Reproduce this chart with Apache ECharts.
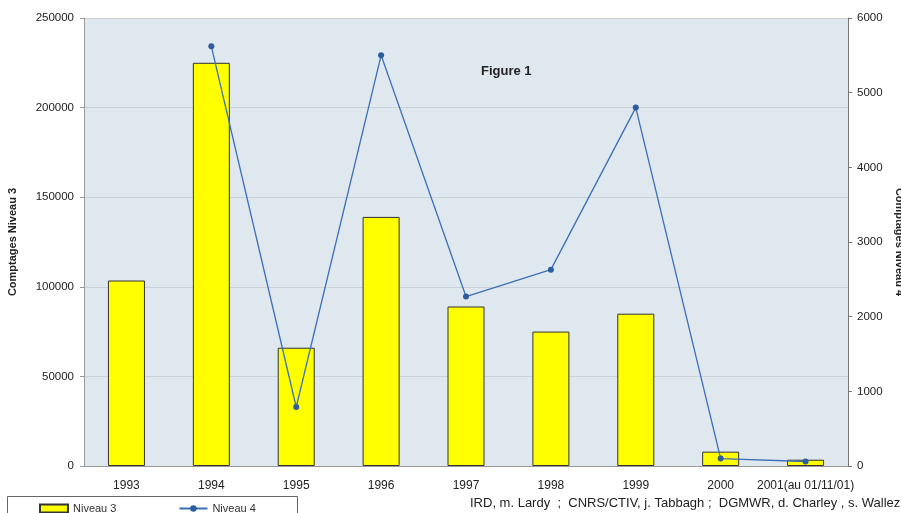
<!DOCTYPE html>
<html>
<head>
<meta charset="utf-8">
<script src="https://cdn.jsdelivr.net/npm/echarts@6/dist/echarts.min.js"></script>
<style>
  html, body { margin: 0; padding: 0; background: #fff; }
  #chart { width: 901px; height: 513px; }
</style>
</head>
<body>
<div id="chart"></div>
<script>
// values
let years = ["1993", "1994", "1995", "1996", "1997", "1998", "1999", "2000", "2001(au 01/11/01)"];
let niveau3 = [103500, 225000, 66000, 139000, 89000, 75000, 85000, 8000, 3500];
let niveau4 = [null, 5620, 790, 5500, 2270, 2630, 4800, 100, 60];
let leftTicks = [0, 50000, 100000, 150000, 200000, 250000];
let rightTicks = [0, 1000, 2000, 3000, 4000, 5000, 6000];

let font = "Liberation Sans, Arial, sans-serif";

var myChart = echarts.init(document.getElementById("chart"), null, { renderer: "canvas" });

let option = {
    backgroundColor: "#ffffff",
    animation: false,
    textStyle: { fontFamily: font },
    title: {
        text: "Figure 1",
        left: 476,
        top: 60,
        textStyle: { fontSize: 13, fontWeight: "bold", color: "#222", fontFamily: font }
    },
    legend: {
        left: 34,
        top: 498,
        itemGap: 62,
        itemWidth: 28,
        itemHeight: 8,
        textStyle: { fontSize: 11, color: "#333", fontFamily: font },
        data: [
            { name: "Niveau 3", icon: "rect" },
            { name: "Niveau 4" }
        ]
    },
    graphic: [
        {
            type: "rect",
            left: 5, top: 494,
            shape: { width: 290, height: 30 },
            style: { fill: null, stroke: "#666", lineWidth: 1 }
        },
        {
            type: "text",
            left: 470, top: 497,
            style: {
                text: "IRD, m. Lardy  ;  CNRS/CTIV, j. Tabbagh ;  DGMWR, d. Charley , s. Wallez",
                fontSize: 13, fill: "#222", fontFamily: font
            }
        }
    ],
    grid: {
        left: 84,
        right: 53,
        top: 18,
        bottom: 47,
        outerBoundsMode: "none",
        containLabel: false,
        show: true,
        backgroundColor: "#dfe7ef",
        borderWidth: 0
    },
    xAxis: {
        type: "category",
        data: years,
        axisLine: { show: true, lineStyle: { color: "#999", width: 1 } },
        axisTick: { show: false },
        axisLabel: { fontSize: 12, color: "#222", margin: 14, interval: 0 }
    },
    yAxis: [
        {
            type: "value",
            min: 0, max: 250000, interval: 50000,
            name: "Comptages Niveau 3",
            nameLocation: "middle",
            nameGap: 66,
            nameTextStyle: { fontSize: 11, fontWeight: "bold", color: "#222" },
            axisLine: { show: true, lineStyle: { color: "#999" } },
            axisTick: { show: true, length: 4, inside: false, lineStyle: { color: "#999" } },
            axisLabel: { fontSize: 11.5, color: "#222", margin: 10, formatter: v => String(v) },
            splitLine: { show: true, lineStyle: { color: "#c9d0d6", width: 1 } }
        },
        {
            type: "value",
            min: 0, max: 6000, interval: 1000,
            name: "Comptages Niveau 4",
            nameLocation: "middle",
            nameGap: 45,
            nameRotate: -90,
            nameTextStyle: { fontSize: 11, fontWeight: "bold", color: "#222" },
            axisLine: { show: true, lineStyle: { color: "#777" } },
            axisTick: { show: true, length: 4, lineStyle: { color: "#777" } },
            axisLabel: { fontSize: 11.5, color: "#222", margin: 9, formatter: v => String(v) },
            splitLine: { show: false }
        }
    ],
    series: [
        {
            name: "Niveau 3",
            type: "bar",
            yAxisIndex: 0,
            barWidth: 37,
            itemStyle: { color: "#ffff00", borderColor: "#333", borderWidth: 1 },
            data: niveau3
        },
        {
            name: "Niveau 4",
            type: "line",
            yAxisIndex: 1,
            symbol: "circle",
            symbolSize: 6,
            connectNulls: false,
            lineStyle: { color: "#3b6fb6", width: 1.3 },
            itemStyle: { color: "#2c5d9e" },
            data: niveau4
        }
    ]
};

myChart.setOption(option);
</script>
</body>
</html>
